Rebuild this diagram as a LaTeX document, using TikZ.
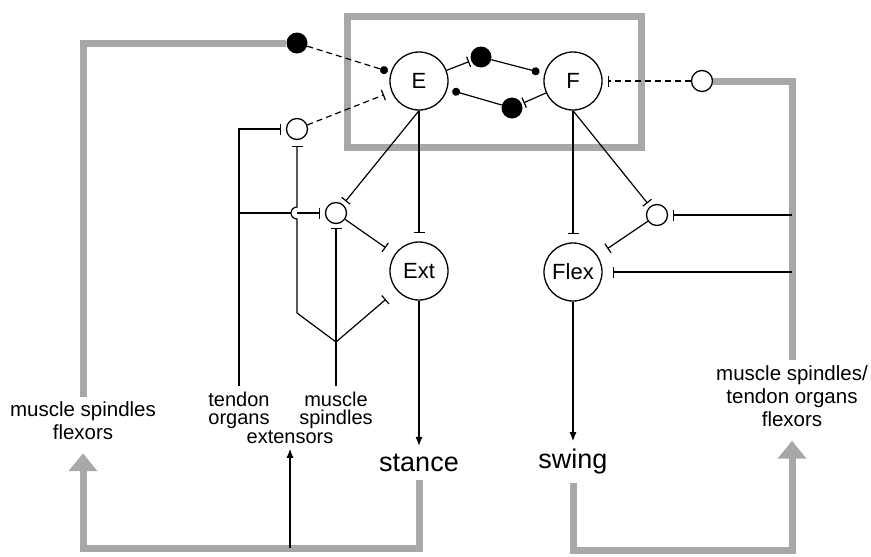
\documentclass[tikz,border=0pt]{standalone}
\usepackage{fontspec}
\setmainfont{Liberation Sans}
\usetikzlibrary{arrows.meta,positioning,calc}

\definecolor{fbgray}{RGB}{168,168,168}

\begin{document}
\begin{tikzpicture}[
    x=1pt, y=1pt,
    neuron/.style={circle, draw, line width=1.3pt, minimum size=58pt, inner sep=0pt, font=\fontsize{22}{24}\selectfont},
    inter/.style={circle, draw, line width=1.3pt, minimum size=21pt, inner sep=0pt},
    relay/.style={circle, fill=black, minimum size=21pt, inner sep=0pt},
    lbl/.style={align=center, inner sep=5pt, font=\fontsize{20.5}{23}\selectfont},
    lbltight/.style={lbl, font=\fontsize{20}{18}\selectfont},
    phase/.style={inner sep=8pt, font=\fontsize{27}{30}\selectfont},
    wire/.style={line width=1.2pt},
    dashline/.style={dash pattern=on 6pt off 4pt},
    inh/.style={wire, -{Bar[width=11pt]}, shorten >=8pt},
    exc/.style={wire, -{Circle[length=8pt]}, shorten >=4pt},
    arrow/.style={wire, -{Latex[length=9pt, width=7pt]}},
    feedback/.style={line width=7pt, draw=fbgray},
    fbarrow/.style={feedback, -{Triangle[width=28pt, length=18pt]}},
    on grid
]
\useasboundingbox (0,0) rectangle (871,-557);

% half-centre neurons and motoneurons
\node[neuron] (E) at (419,-81) {E};
\node[neuron, right=154pt of E] (F) {F};
\node[neuron, below=190pt of E] (Ext) {Ext};
\node[neuron, below=191pt of F] (Flex) {Flex};

% mutual inhibition
\node[relay, above right=24pt and 62pt of E] (inF) {};
\node[relay, below left=27pt and 61pt of F] (inE) {};

% interneurons
\node[relay, above left=38pt and 122pt of E] (exE) {};
\node[inter, below left=48pt and 122pt of E] (ihE) {};
\node[inter, below right=84pt and 39pt of ihE] (ihExt) {};
\node[inter, below right=134pt and 84pt of F] (ihFlex) {};
\node[inter, right=129pt of F] (ihF) {};

% outputs and labels
\node[phase, below=192pt of Ext] (stance) {stance};
\node[phase, below=190pt of Flex] (swing) {swing};
\node[lbl, below left=378pt and 214pt of exE] (msflex) {muscle spindles\\flexors};
\node[lbl, below right=315pt and 90pt of ihF] (rlabel) {muscle spindles/\\tendon organs\\flexors};
\node[lbltight, below left=281pt and 58pt of ihE] (tendon) {tendon\\organs};
\node[lbltight, below=197pt of ihExt] (mspind) {muscle\\spindles};
\node[lbltight, below right=27pt and 51pt of tendon] (extlab) {extensors};

\coordinate[below=85pt of stance] (stbot);
\coordinate[below=88pt of swing] (swbot);
\coordinate[below=129pt of ihExt] (junc);
\coordinate[below=184pt of ihE] (bend);

% gray box and feedback loops
\draw[feedback] ($(E)+(-72,65)$) rectangle ($(F)+(68,-66)$);
\draw[feedback] (exE) -| (msflex);
\draw[fbarrow, shorten >=8pt] (stance) -- (stbot) -| (msflex);
\draw[feedback] (ihF) -| (rlabel);
\draw[fbarrow, shorten >=9pt] (swing) -- (swbot) -| (rlabel);

% centre connections
\draw[exc, dashline, shorten >=3pt] (exE) -- (E);
\draw[inh, dashline] (ihE) -- (E);
\draw[inh, shorten >=2pt] (E) -- (inF);
\draw[exc, shorten >=5pt] (inF) -- (F);
\draw[inh, shorten >=2pt] (F) -- (inE);
\draw[exc, shorten >=5pt] (inE) -- (E);
\draw[inh, dashline, shorten >=5pt] (ihF) -- (F);

\draw[inh] (E) -- (Ext);
\draw[inh, shorten >=4pt] (E.south) -- (ihExt);
\draw[inh, shorten >=11pt] (ihExt) -- (Ext);
\draw[inh] (F) -- (Flex);
\draw[inh, shorten >=4pt] (F.south) -- (ihFlex);
\draw[inh, shorten >=12pt] (ihFlex) -- (Flex);
\draw[arrow] (Ext) -- (stance);
\draw[arrow] (Flex) -- (swing);

% afferents
\draw[inh, shorten >=5pt] (ihFlex -| rlabel) -- (ihFlex);
\draw[inh, shorten >=10pt] (Flex -| rlabel) -- (Flex);
\draw[inh, shorten >=5pt] (tendon) |- (ihE);
\draw[wire] (tendon |- ihExt) -- ++(52pt,0);
\draw[inh, shorten >=5pt] (ihE |- ihExt) -- (ihExt);
\draw[inh, shorten >=4pt] (mspind) -- (ihExt);
\draw[inh, shorten >=14pt] (junc) -- (Ext);
\draw[inh, shorten >=6pt] (junc) -- (bend) -- ++(0,94pt) arc[start angle=270, end angle=90, radius=6pt] -- (ihE);
\draw[arrow] (extlab |- stbot) -- (extlab);
\end{tikzpicture}
\end{document}
